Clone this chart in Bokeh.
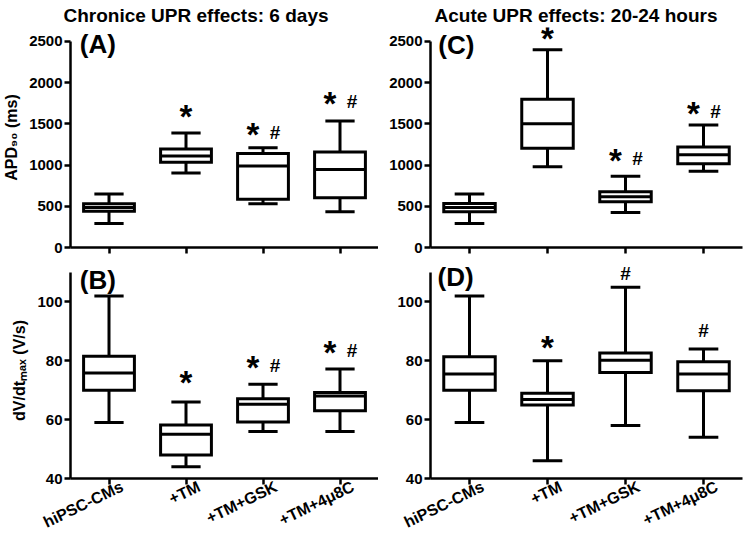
from bokeh.plotting import figure
from bokeh.models import ColumnDataSource, Range1d, FixedTicker, Label, LinearAxis
from bokeh.layouts import gridplot
from bokeh.transform import dodge
from bokeh.embed import file_html
from bokeh.resources import INLINE

# ---------------- data ----------------
groups = ["hiPSC-CMs", "+TM", "+TM+GSK", "+TM+4\u03bc8C"]
positions = [1, 2, 3, 4]

# (A) chronic, APD90 (ms)
a_lo = [290, 905, 530, 435]
a_q1 = [440, 1035, 585, 605]
a_med = [485, 1110, 990, 945]
a_q3 = [530, 1195, 1140, 1160]
a_hi = [650, 1390, 1210, 1535]
a_star_x = [2, 3, 4]
a_star_y = [1615, 1400, 1775]
a_hash_x = [3, 4]
a_hash_y = [1400, 1775]

# (C) acute, APD90 (ms)
c_lo = [290, 980, 425, 925]
c_q1 = [435, 1205, 555, 1015]
c_med = [485, 1500, 615, 1125]
c_q3 = [535, 1800, 675, 1220]
c_hi = [650, 2400, 865, 1485]
c_star_x = [2, 3, 4]
c_star_y = [2560, 1075, 1655]
c_hash_x = [3, 4]
c_hash_y = [1075, 1655]

# (B) chronic, dV/dt max (V/s)
b_lo = [59, 44, 56, 56]
b_q1 = [70, 48, 59.2, 63]
b_med = [75.8, 55, 65.2, 68]
b_q3 = [81.5, 58.2, 67.1, 69.2]
b_hi = [102, 66, 72, 77.2]
b_star_x = [2, 3, 4]
b_star_y = [73.3, 78.4, 83.5]
b_hash_x = [3, 4]
b_hash_y = [78.4, 83.5]

# (D) acute, dV/dt max (V/s)
d_lo = [59, 46, 58, 54]
d_q1 = [70, 65, 76, 69.8]
d_med = [75.5, 66.8, 80.2, 75.5]
d_q3 = [81.4, 69, 82.6, 79.7]
d_hi = [102, 80, 105, 84]
d_star_x = [2]
d_star_y = [85.1]
d_hash_x = [3, 4]
d_hash_y = [109.5, 90.2]

apd_ticks = [0, 500, 1000, 1500, 2000, 2500]
dvdt_ticks = [40, 60, 80, 100]
apd_bounds = (0, 2500)
dvdt_bounds = (40, 110)

FONT = "Liberation Sans"
LW = 3
AXIS_PX = 207      # pixel length of the drawn y axis
LABEL_SHIFT = 0.17  # category-label shift to the right (in category units)


def make_panel(lo, q1, med, q3, hi, star_x, star_y, hash_x, hash_y,
               bounds, yticks, ylabel, letter, letter_x, letter_y,
               width, height, b_left, b_right, headroom, b_bottom, xlabels,
               title=None, title_offset=0):
    # frame reaches `headroom` px above the top of the axis so marks there are not clipped
    y_end = bounds[1] + (bounds[1] - bounds[0]) * headroom / AXIS_PX
    p = figure(width=width, height=height, x_range=Range1d(0.5, 4.5),
               y_range=Range1d(bounds[0], y_end),
               output_backend="svg", toolbar_location=None,
               min_border_left=b_left, min_border_right=b_right,
               min_border_top=height - b_bottom - AXIS_PX - headroom, min_border_bottom=b_bottom)
    p.outline_line_color = None
    p.grid.visible = False
    p.background_fill_color = "white"

    src = ColumnDataSource(dict(x=positions, lo=lo, q1=q1, med=med, q3=q3, hi=hi))
    p.segment(x0="x", y0="q3", x1="x", y1="hi", source=src, line_width=LW, line_color="black")
    p.segment(x0="x", y0="lo", x1="x", y1="q1", source=src, line_width=LW, line_color="black")
    p.segment(x0=dodge("x", -0.19), y0="hi", x1=dodge("x", 0.19), y1="hi", source=src,
              line_width=LW, line_color="black")
    p.segment(x0=dodge("x", -0.19), y0="lo", x1=dodge("x", 0.19), y1="lo", source=src,
              line_width=LW, line_color="black")
    p.vbar(x="x", width=0.66, bottom="q1", top="q3", source=src, fill_color="white",
           line_color="black", line_width=LW, line_join="miter")
    p.segment(x0=dodge("x", -0.33), y0="med", x1=dodge("x", 0.33), y1="med", source=src,
              line_width=LW, line_color="black")

    paired = set(star_x) & set(hash_x)
    for x, y in zip(star_x, star_y):
        p.add_layout(Label(x=x, y=y, text="*", x_offset=-10 if x in paired else 0, y_offset=-2,
                           text_align="center", text_baseline="middle", text_color="black",
                           text_font=FONT, text_font_style="bold", text_font_size="33px"))
    for x, y in zip(hash_x, hash_y):
        p.add_layout(Label(x=x, y=y, text="#", x_offset=12 if x in paired else 0,
                           text_align="center", text_baseline="middle", text_color="black",
                           text_font=FONT, text_font_style="bold", text_font_size="19px"))

    p.add_layout(Label(x=letter_x, y=letter_y, text=letter, text_baseline="middle",
                       text_color="black",
                       text_font=FONT, text_font_style="bold", text_font_size="26px"))

    if title:
        p.title.text = title
        p.title.text_font = FONT
        p.title.text_font_style = "bold"
        p.title.text_font_size = "19px"
        p.title.text_color = "black"
        p.title.align = "left"
        p.title.offset = title_offset
        p.title.standoff = 4

    for ax in (p.xaxis[0], p.yaxis[0]):
        ax.axis_line_width = 2.5
        ax.axis_line_color = "black"
        ax.major_tick_line_width = 2.5
        ax.major_tick_line_color = "black"
        ax.major_tick_out = 6
        ax.major_tick_in = 0
        ax.minor_tick_line_color = None
        ax.major_label_text_font = FONT
        ax.major_label_text_font_style = "bold"
        ax.major_label_text_color = "black"
        ax.major_label_text_font_size = "15px"

    p.yaxis.bounds = bounds
    p.yaxis.ticker = FixedTicker(ticks=yticks)
    p.yaxis.major_label_standoff = 2
    if ylabel:
        p.yaxis.axis_label = ylabel
        p.yaxis.axis_label_text_font = FONT
        p.yaxis.axis_label_text_font_style = "bold"
        p.yaxis.axis_label_text_font_size = "16px"
        p.yaxis.axis_label_text_color = "black"
        p.yaxis.axis_label_standoff = 6

    p.xaxis.ticker = FixedTicker(ticks=positions)
    p.xaxis.major_label_overrides = {pos: "" for pos in positions}
    p.xaxis.major_label_text_font_size = "0px"
    p.xaxis.major_label_standoff = 0
    if xlabels:
        # label-only axis whose range is offset so rotated names sit to the right of each tick
        p.extra_x_ranges = {"names": Range1d(0.5 - LABEL_SHIFT, 4.5 - LABEL_SHIFT)}
        names = LinearAxis(x_range_name="names", ticker=FixedTicker(ticks=positions),
                           major_label_overrides={pos: g for pos, g in zip(positions, groups)},
                           axis_line_color=None, major_tick_line_color=None,
                           minor_tick_line_color=None, major_tick_out=0, major_tick_in=0,
                           major_label_orientation=0.45, major_label_standoff=1,
                           major_label_text_font=FONT, major_label_text_font_style="bold",
                           major_label_text_font_size="16px", major_label_text_color="black")
        p.add_layout(names, "below")
    return p


pa = make_panel(a_lo, a_q1, a_med, a_q3, a_hi, a_star_x, a_star_y, a_hash_x, a_hash_y,
                apd_bounds, apd_ticks, "APD\u2089\u2080 (ms)", "(A)", 0.62, 2465,
                378, 260, 68, 0, 14, 13, False, "Chronice UPR effects: 6 days", -7)
pc = make_panel(c_lo, c_q1, c_med, c_q3, c_hi, c_star_x, c_star_y, c_hash_x, c_hash_y,
                apd_bounds, apd_ticks, None, "(C)", 0.6, 2460,
                372, 260, 52, 8, 14, 13, False, "Acute UPR effects: 20-24 hours", 4)
pb = make_panel(b_lo, b_q1, b_med, b_q3, b_hi, b_star_x, b_star_y, b_hash_x, b_hash_y,
                dvdt_bounds, dvdt_ticks, "dV/dt\u2098\u2090\u2093 (V/s)", "(B)", 0.62, 107.3,
                378, 281, 68, 0, 10, 62, True)
pd_ = make_panel(d_lo, d_q1, d_med, d_q3, d_hi, d_star_x, d_star_y, d_hash_x, d_hash_y,
                 dvdt_bounds, dvdt_ticks, None, "(D)", 0.59, 108.5,
                 372, 281, 52, 8, 10, 62, True)

grid = gridplot([[pa, pc], [pb, pd_]], toolbar_location=None)
open("out.html", "w").write(file_html(grid, INLINE))
